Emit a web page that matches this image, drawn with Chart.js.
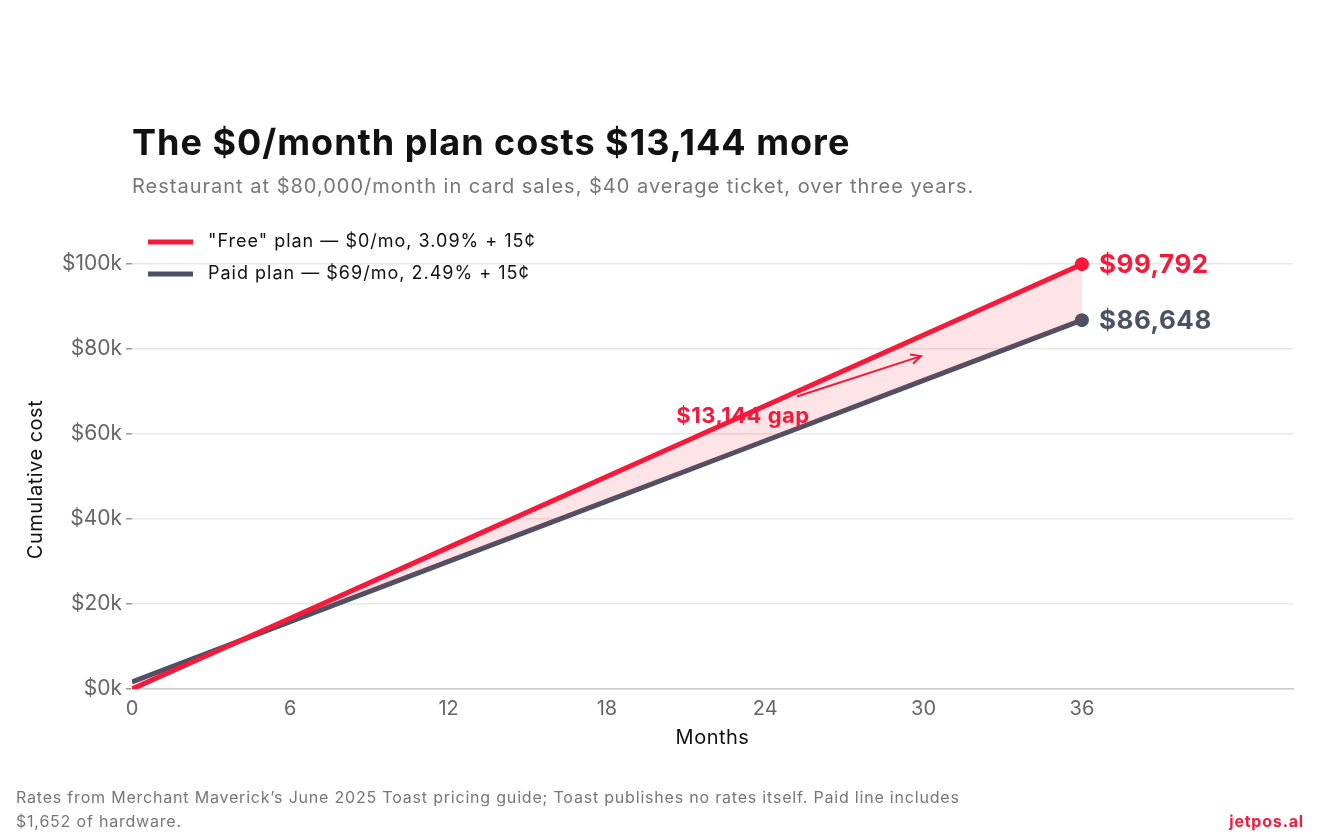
<!DOCTYPE html>
<html>
<head>
<meta charset="utf-8">
<script src="https://cdn.jsdelivr.net/npm/chart.js@4"></script>
<style>
  body { margin: 0; background: #fff; }
  #wrap { width: 1320px; height: 836px; }
</style>
</head>
<body>
<div id="wrap"><canvas id="chart"></canvas></div>
<script>
const months = [0, 6, 12, 18, 24, 30, 36];
const freePlan = [0, 16632, 33264, 49896, 66528, 83160, 99792];
const paidPlan = [1652, 15818, 29984, 44150, 58316, 72482, 86648];
const yTicks = [0, 20000, 40000, 60000, 80000, 100000];
const xTicks = [0, 6, 12, 18, 24, 30, 36];

const RED = "#f5193a";
const SLATE = "#4a5366";
const FONT = "Inter, 'Noto Sans', sans-serif";

const decor = {
    id: "decor",
    afterDraw(chart) {
        const c = chart.ctx;
        const x = chart.scales.x, y = chart.scales.y;
        c.save();
        c.textBaseline = "alphabetic";
        c.textAlign = "left";
        c.fillStyle = "#111";
        c.letterSpacing = "1px";
        c.font = "bold 36px " + FONT;
        c.fillText("The $0/month plan costs $13,144 more", 132, 155);
        c.fillStyle = "#777";
        c.font = "20px " + FONT;
        c.fillText("Restaurant at $80,000/month in card sales, $40 average ticket, over three years.", 132, 193);

        // legend
        c.lineWidth = 5;
        [["\"Free\" plan — $0/mo, 3.09% + 15¢", RED, 242], ["Paid plan — $69/mo, 2.49% + 15¢", SLATE, 274]].forEach(([t, col, ly]) => {
            c.strokeStyle = col;
            c.beginPath(); c.moveTo(148, ly); c.lineTo(193, ly); c.stroke();
            c.fillStyle = "#111";
            c.font = "18px " + FONT;
            c.textBaseline = "middle";
            c.fillText(t, 208, ly);
        });

        // end labels
        c.letterSpacing = "0.5px";
        c.font = "bold 26px " + FONT;
        c.fillStyle = RED;
        c.fillText("$99,792", 1099, y.getPixelForValue(freePlan[6]) + 1);
        c.fillStyle = SLATE;
        c.fillText("$86,648", 1099, y.getPixelForValue(paidPlan[6]) + 1);

        // gap annotation
        c.strokeStyle = RED; c.lineWidth = 2;
        const ax0 = x.getPixelForValue(25.2), ay0 = y.getPixelForValue(68700);
        const ax1 = x.getPixelForValue(29.9), ay1 = y.getPixelForValue(78200);
        c.beginPath(); c.moveTo(ax0, ay0); c.lineTo(ax1, ay1); c.stroke();
        const ang = Math.atan2(ay1 - ay0, ax1 - ax0);
        c.beginPath();
        c.moveTo(ax1 - 11 * Math.cos(ang - 0.45), ay1 - 11 * Math.sin(ang - 0.45));
        c.lineTo(ax1, ay1);
        c.lineTo(ax1 - 11 * Math.cos(ang + 0.45), ay1 - 11 * Math.sin(ang + 0.45));
        c.stroke();
        c.fillStyle = RED;
        c.font = "bold 22px " + FONT;
        c.textAlign = "center";
        c.fillText("$13,144 gap", 743, 416);

        // axis titles
        c.letterSpacing = "0.5px";
        c.fillStyle = "#111";
        c.font = "20px " + FONT;
        c.fillText("Months", x.getPixelForValue(22), 738);
        c.save();
        c.translate(36, (y.top + y.bottom) / 2 + 14);
        c.rotate(-Math.PI / 2);
        c.fillText("Cumulative cost", 0, 0);
        c.restore();

        // footer
        c.letterSpacing = "0.8px";
        c.textAlign = "left";
        c.fillStyle = "#777";
        c.font = "16px " + FONT;
        c.fillText("Rates from Merchant Maverick’s June 2025 Toast pricing guide; Toast publishes no rates itself. Paid line includes", 16, 798);
        c.fillText("$1,652 of hardware.", 16, 822);
        c.textAlign = "right";
        c.fillStyle = RED;
        c.font = "bold 16px " + FONT;
        c.fillText("jetpos.al", 1304, 822);
        c.restore();
    },
};

new Chart(document.getElementById("chart"), {
    type: "line",
    data: {
        datasets: [
            {
                data: months.map((m, i) => ({ x: m, y: freePlan[i] })),
                borderColor: RED,
                backgroundColor: "rgba(245, 25, 58, 0.12)",
                borderWidth: 5,
                fill: "+1",
                pointRadius: months.map((m, i) => (i === months.length - 1 ? 7 : 0)),
                pointBackgroundColor: RED,
                pointBorderWidth: 0,
            },
            {
                data: months.map((m, i) => ({ x: m, y: paidPlan[i] })),
                borderColor: SLATE,
                borderWidth: 5,
                fill: false,
                pointRadius: months.map((m, i) => (i === months.length - 1 ? 7 : 0)),
                pointBackgroundColor: SLATE,
                pointBorderWidth: 0,
            },
        ],
    },
    options: {
        responsive: true,
        maintainAspectRatio: false,
        animation: false,
        layout: { padding: { top: 242, right: 27, bottom: 77, left: 0 } },
        plugins: { legend: { display: false }, tooltip: { enabled: false } },
        scales: {
            x: {
                type: "linear",
                min: 0,
                max: 44,
                afterBuildTicks: (s) => { s.ticks = xTicks.map((v) => ({ value: v })); },
                afterFit: (s) => { s.height = 70; },
                grid: { display: false, drawTicks: true, tickLength: 6 },
                border: { display: true, color: "#ccc", width: 1.5 },
                ticks: { color: "#666", padding: 2, font: { size: 20, family: FONT } },
            },
            y: {
                min: 0,
                max: 105000,
                afterBuildTicks: (s) => { s.ticks = yTicks.map((v) => ({ value: v })); },
                afterFit: (s) => { s.width = 132; },
                grid: { color: "#e8e8e8", lineWidth: 1.5, tickLength: 6, tickColor: "#999" },
                border: { display: false },
                ticks: {
                    color: "#666",
                    padding: 4,
                    font: { size: 21, family: FONT },
                    callback: (v) => "$" + v / 1000 + "k",
                },
            },
        },
    },
    plugins: [decor],
});
</script>
</body>
</html>
